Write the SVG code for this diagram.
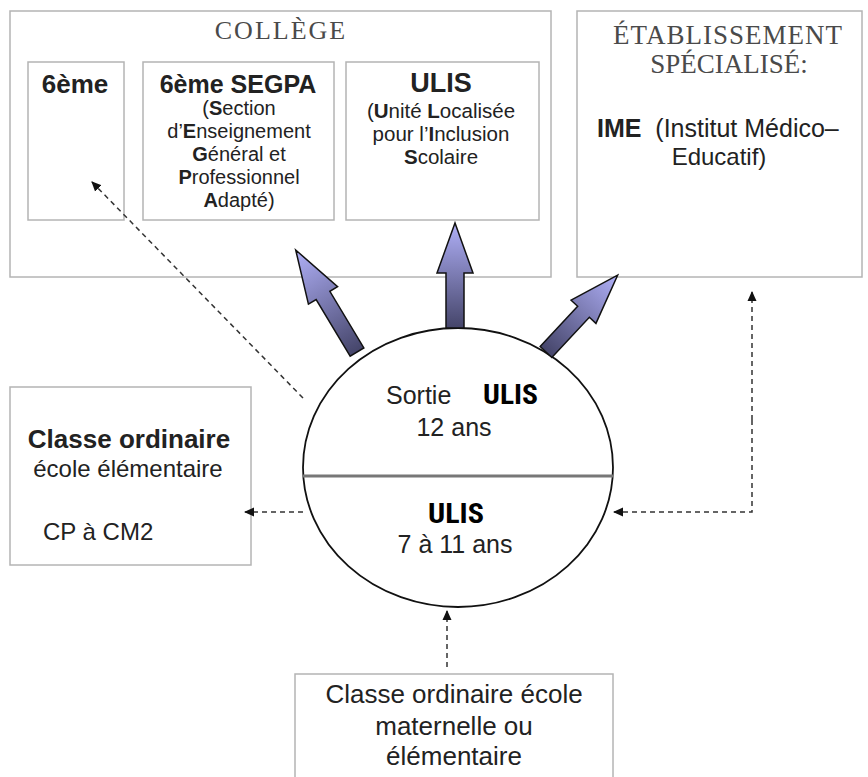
<svg xmlns="http://www.w3.org/2000/svg" width="868" height="777" viewBox="0 0 868 777">
<style>
.box{fill:#fff;stroke:#b4b4b4;stroke-width:1.5}
.title{font-family:"Liberation Serif",serif;fill:#4a4a4a;text-anchor:middle}
.t{font-family:"Liberation Sans",Arial,sans-serif;fill:#222;text-anchor:middle}
.s{text-anchor:start}
.b{font-weight:bold}
.cal{font-family:"Liberation Sans Narrow","Roboto Condensed","Liberation Sans",sans-serif;font-weight:bold;fill:#000}
.dash{fill:none;stroke:#333;stroke-width:1.5;stroke-dasharray:5 4}
.blk{stroke:#111;stroke-width:1.5;fill:url(#g)}
</style>
<defs>
<linearGradient id="g" x1="0" y1="0" x2="0" y2="1">
<stop offset="0" stop-color="#b0b0f8"/>
<stop offset="1" stop-color="#45456a"/>
</linearGradient>
<marker id="ah" markerWidth="10" markerHeight="10" refX="9" refY="5" orient="auto" markerUnits="userSpaceOnUse">
<path d="M0,0.5 L10,5 L0,9.5 Z" fill="#111"/>
</marker>
</defs>

<g id="college">
<rect class="box" x="10" y="11" width="541" height="266"/>
<text class="title" x="281" y="39" font-size="26" letter-spacing="2">COLLÈGE</text>
</g>
<g id="sixieme">
<rect class="box" x="28" y="62" width="96" height="158"/>
<text class="t b" x="75" y="93" font-size="26">6ème</text>
</g>
<g id="segpa">
<rect class="box" x="143" y="62" width="191" height="158"/>
<text class="t b" x="238" y="93" font-size="25">6ème SEGPA</text>
<text class="t" font-size="20" x="239" y="115">(<tspan class="b">S</tspan>ection</text>
<text class="t" font-size="20" x="239" y="138">d’<tspan class="b">E</tspan>nseignement</text>
<text class="t" font-size="20" x="239" y="161"><tspan class="b">G</tspan>énéral et</text>
<text class="t" font-size="20" x="239" y="184"><tspan class="b">P</tspan>rofessionnel</text>
<text class="t" font-size="20" x="239" y="207"><tspan class="b">A</tspan>dapté)</text>
</g>
<g id="ulis-college">
<rect class="box" x="346" y="62" width="193" height="158"/>
<text class="t b" x="441" y="92" font-size="27">ULIS</text>
<text class="t" font-size="20.5" x="441" y="118">(<tspan class="b">U</tspan>nité <tspan class="b">L</tspan>ocalisée</text>
<text class="t" font-size="20.5" x="441" y="141">pour l’<tspan class="b">I</tspan>nclusion</text>
<text class="t" font-size="20.5" x="441" y="164"><tspan class="b">S</tspan>colaire</text>
</g>
<g id="etablissement">
<rect class="box" x="577" y="11" width="285" height="266"/>
<text class="title" x="728" y="44" font-size="27" letter-spacing="1">ÉTABLISSEMENT</text>
<text class="title" x="729" y="73" font-size="27">SPÉCIALISÉ:</text>
<text class="t s" font-size="25" x="597" y="137" xml:space="preserve"><tspan class="b">IME</tspan>  (Institut Médico–</text>
<text class="t" font-size="24" x="719" y="165">Educatif)</text>
</g>
<g id="classe-ordinaire">
<rect class="box" x="10" y="387" width="241" height="178"/>
<text class="t b" x="129" y="448" font-size="26">Classe ordinaire</text>
<text class="t" x="128" y="477" font-size="24">école élémentaire</text>
<text class="t s" x="43" y="540" font-size="24">CP à CM2</text>
</g>
<g id="classe-maternelle">
<rect class="box" x="295" y="674" width="318" height="120"/>
<text class="t" x="454" y="703" font-size="26">Classe ordinaire école</text>
<text class="t" x="454" y="735" font-size="26">maternelle ou</text>
<text class="t" x="454" y="765" font-size="26">élémentaire</text>
</g>
<g id="ulis-ecole">
<ellipse cx="458" cy="467.5" rx="155" ry="139.5" fill="#fff" stroke="#111" stroke-width="1.8"/>
<line x1="303" y1="476" x2="613" y2="476" stroke="#777" stroke-width="3"/>
<text class="t s" x="386" y="404" font-size="25">Sortie</text>
<text class="cal" x="483" y="404" font-size="27" textLength="55" lengthAdjust="spacingAndGlyphs">ULIS</text>
<text class="t" x="454" y="436" font-size="25">12 ans</text>
<text class="cal" x="428" y="523" font-size="27" textLength="56" lengthAdjust="spacingAndGlyphs">ULIS</text>
<text class="t" x="455" y="553" font-size="25">7 à 11 ans</text>
</g>
<g id="connectors">
<path class="blk" transform="translate(455,328)" d="M-9,0 L-9,-55 L-18,-55 L0,-105 L18,-55 L9,-55 L9,0 Z"/>
<path class="blk" transform="translate(357,352) rotate(-31)" d="M-8,0 L-8,-66 L-17,-66 L0,-119 L17,-66 L8,-66 L8,0 Z"/>
<path class="blk" transform="translate(546,352) rotate(43)" d="M-8,0 L-8,-55 L-17,-55 L0,-105 L17,-55 L8,-55 L8,0 Z"/>
<path class="dash" d="M303,398 L92,182" marker-end="url(#ah)"/>
<path class="dash" d="M303,512 L245,512" marker-end="url(#ah)"/>
<path class="dash" d="M752,420 L752,292" marker-end="url(#ah)"/>
<path class="dash" d="M752,420 L752,512 L614,512" marker-end="url(#ah)"/>
<path class="dash" d="M447,667 L447,611" marker-end="url(#ah)"/>
</g>
</svg>
